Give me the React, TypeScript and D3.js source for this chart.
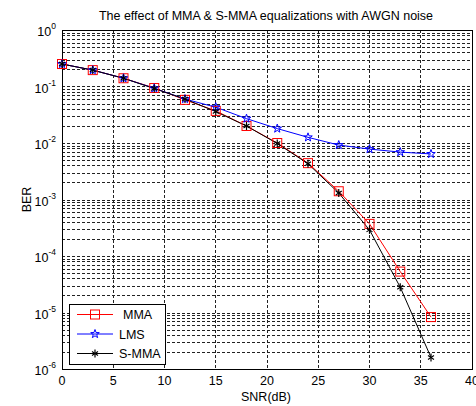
import React, { useRef, useEffect } from "react";
import * as d3 from "d3";

const snr = [0, 3, 6, 9, 12, 15, 18, 21, 24, 27, 30, 33, 36];
const mma = [0.25, 0.195, 0.14, 0.094, 0.058, 0.037, 0.02, 0.01, 0.0044, 0.0014, 0.00037, 0.000053, 0.0000083];
const lms = [0.25, 0.195, 0.14, 0.093, 0.06, 0.043, 0.027, 0.018, 0.0126, 0.0092, 0.0078, 0.0069, 0.0064];
const smma = [0.25, 0.195, 0.14, 0.092, 0.06, 0.036, 0.02, 0.0098, 0.0043, 0.0013, 0.00029, 0.000028, 0.0000016];
const xTicks = [0, 5, 10, 15, 20, 25, 30, 35, 40];
const yExps = [0, -1, -2, -3, -4, -5, -6];
const seriesNames = ["MMA", "LMS", "S-MMA"];
const seriesColors = ["#ff0000", "#0000ff", "#000000"];

const W = 476, H = 406;
const M = { left: 62, right: 4, top: 30, bottom: 37 };
const FONT = "'Liberation Sans', Arial, sans-serif";

function starPath(r: number) {
  const pts: string[] = [];
  for (let i = 0; i < 10; i++) {
    const a = -Math.PI / 2 + (i * Math.PI) / 5;
    const rr = i % 2 === 0 ? r : r * 0.4;
    pts.push(`${(rr * Math.cos(a)).toFixed(2)},${(rr * Math.sin(a)).toFixed(2)}`);
  }
  return "M" + pts.join("L") + "Z";
}

function drawMarker(g: any, kind: number, x: number, y: number) {
  if (kind === 0) {
    g.append("rect").attr("x", x - 4.5).attr("y", y - 4.5).attr("width", 9).attr("height", 9)
      .attr("fill", "none").attr("stroke", seriesColors[0]).attr("stroke-width", 1);
  } else if (kind === 1) {
    g.append("path").attr("d", starPath(4.5)).attr("transform", `translate(${x},${y})`)
      .attr("fill", "none").attr("stroke", seriesColors[1]).attr("stroke-width", 1);
  } else {
    const s = g.append("g").attr("transform", `translate(${x},${y})`).attr("stroke", "#000").attr("stroke-width", 1.2);
    s.append("line").attr("x1", 0).attr("x2", 0).attr("y1", -4).attr("y2", 4);
    s.append("line").attr("x1", -3).attr("x2", 3).attr("y1", -2).attr("y2", 2);
    s.append("line").attr("x1", -3).attr("x2", 3).attr("y1", 2).attr("y2", -2);
  }
}

function Chart() {
  const svgRef = useRef<SVGSVGElement>(null);

  useEffect(() => {
    const svg = d3.select(svgRef.current);
    svg.selectAll("*").remove();

    const x = d3.scaleLinear().domain([0, 40]).range([M.left, W - M.right]);
    const y = d3.scaleLog().domain([1e-6, 1]).range([H - M.bottom, M.top]);

    svg.append("rect").attr("width", W).attr("height", H).attr("fill", "#fff");

    // grid
    const grid = svg.append("g").attr("stroke", "#222").attr("stroke-width", 1)
      .attr("stroke-dasharray", "3,2").attr("shape-rendering", "crispEdges");
    xTicks.slice(1, -1).forEach((t) => {
      grid.append("line").attr("x1", x(t)).attr("x2", x(t)).attr("y1", M.top).attr("y2", H - M.bottom);
    });
    for (let e = -6; e < 0; e++) {
      for (let k = 1; k <= 9; k++) {
        const v = k * Math.pow(10, e);
        if (e === -6 && k === 1) continue;
        grid.append("line").attr("x1", M.left).attr("x2", W - M.right)
          .attr("y1", Math.round(y(v)) + 0.5).attr("y2", Math.round(y(v)) + 0.5);
      }
    }

    // box
    svg.append("rect").attr("x", M.left).attr("y", M.top)
      .attr("width", W - M.right - M.left).attr("height", H - M.bottom - M.top)
      .attr("fill", "none").attr("stroke", "#000").attr("stroke-width", 1).attr("shape-rendering", "crispEdges");

    // x ticks
    const xt = svg.append("g").attr("font-family", FONT).attr("font-size", 12.5).attr("fill", "#000");
    xTicks.forEach((t) => {
      xt.append("text").attr("x", x(t)).attr("y", H - M.bottom + 16).attr("text-anchor", "middle").text(t);
    });

    // y ticks
    yExps.forEach((e) => {
      const ty = y(Math.pow(10, e));
      const t = svg.append("text").attr("font-family", FONT).attr("font-size", 12.5).attr("fill", "#000")
        .attr("x", M.left - 6).attr("y", ty + 6).attr("text-anchor", "end");
      t.append("tspan").text("10");
      t.append("tspan").attr("font-size", 8.5).attr("dy", -7).text(String(e));
    });

    // series
    const line = d3.line<[number, number]>().x((d) => x(d[0])).y((d) => y(d[1]));
    const all = [mma, lms, smma];
    all.forEach((vals, i) => {
      const pts = snr.map((s, j) => [s, vals[j]] as [number, number]);
      svg.append("path").attr("d", line(pts)).attr("fill", "none")
        .attr("stroke", seriesColors[i]).attr("stroke-width", 1);
    });
    all.forEach((vals, i) => {
      const g = svg.append("g");
      snr.forEach((s, j) => drawMarker(g, i, x(s), y(vals[j])));
    });

    // legend
    const lg = svg.append("g");
    lg.append("rect").attr("x", 69.5).attr("y", 304.5).attr("width", 96).attr("height", 60)
      .attr("fill", "#fff").attr("stroke", "#000").attr("stroke-width", 1);
    seriesNames.forEach((n, i) => {
      const ly = 314.5 + i * 19.5;
      lg.append("line").attr("x1", 77).attr("x2", 113).attr("y1", ly).attr("y2", ly)
        .attr("stroke", seriesColors[i]).attr("stroke-width", 1);
      drawMarker(lg, i, 95, ly);
      lg.append("text").attr("x", i === 0 ? 123 : 119).attr("y", ly + 4.5).attr("font-family", FONT)
        .attr("font-size", 12.5).attr("fill", "#000").text(n);
    });

    // title & labels
    svg.append("text").attr("x", 266).attr("y", 20).attr("text-anchor", "middle").attr("font-family", FONT)
      .attr("font-size", 12.5).attr("fill", "#000").text("The effect of MMA & S-MMA equalizations with AWGN noise");
    svg.append("text").attr("x", 266).attr("y", 401).attr("text-anchor", "middle").attr("font-family", FONT)
      .attr("font-size", 12.5).attr("fill", "#000").text("SNR(dB)");
    svg.append("text").attr("transform", `translate(31,${(M.top + H - M.bottom) / 2}) rotate(-90)`)
      .attr("text-anchor", "middle").attr("font-family", FONT).attr("font-size", 12.5).attr("fill", "#000").text("BER");
  }, []);

  return <svg ref={svgRef} width={W} height={H} style={{ display: "block" }} />;
}

export default function App() {
  return (
    <div style={{ position: "absolute", left: 0, top: 0 }}>
      <Chart />
    </div>
  );
}
